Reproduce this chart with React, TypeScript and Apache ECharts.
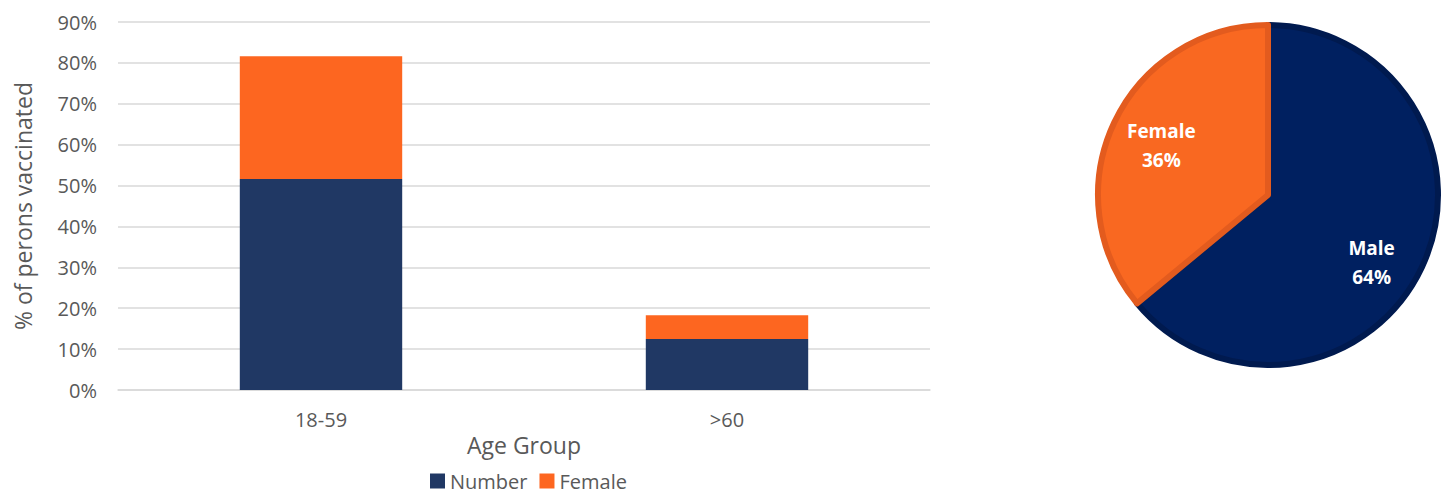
import React, { useEffect, useRef } from "react";
import * as echarts from "echarts";

const categories = ["18-59", ">60"];
const numberValues = [51.6, 12.5];
const femaleValues = [30.0, 5.8];
const pieNames = ["Male", "Female"];
const pieValues = [64, 36];

export default function App() {
  const ref = useRef<HTMLDivElement>(null);
  useEffect(() => {
    if (!ref.current) return;
    const chart = echarts.init(ref.current, null, { renderer: "svg" });
    const font = "'Open Sans', 'Liberation Sans', sans-serif";
    const offsets: Record<number, [number, number]> = { 0: [24, 30], 1: [-27, -12] };
    chart.setOption({
      animation: false,
      textStyle: { fontFamily: font },
      grid: { left: 118, right: 514, top: 22, bottom: 104 },
      legend: {
        data: ["Number", "Female"],
        left: 430,
        top: 471,
        padding: 0,
        icon: "rect",
        itemWidth: 15,
        itemHeight: 15,
        itemGap: 12,
        textStyle: { fontSize: 20, color: "#595959", fontFamily: font },
      },
      xAxis: {
        type: "category",
        data: categories,
        name: "Age Group",
        nameLocation: "middle",
        nameGap: 36,
        nameTextStyle: { fontSize: 23, color: "#595959", fontFamily: font },
        axisLine: { lineStyle: { color: "#d9d9d9", width: 1.5 } },
        axisTick: { show: false },
        axisLabel: { fontSize: 20, color: "#595959", margin: 19, fontFamily: font },
      },
      yAxis: {
        type: "value",
        min: 0,
        max: 90,
        interval: 10,
        name: "% of perons vaccinated",
        nameLocation: "middle",
        nameGap: 84,
        nameTextStyle: { fontSize: 23, color: "#595959", fontFamily: font },
        axisLine: { show: false },
        axisTick: { show: false },
        axisLabel: { formatter: "{value}%", fontSize: 20, color: "#595959", margin: 21, fontFamily: font },
        splitLine: { lineStyle: { color: "#d9d9d9", width: 1.5 } },
      },
      series: [
        {
          name: "Number",
          type: "bar",
          stack: "total",
          barWidth: "40%",
          data: numberValues,
          itemStyle: { color: "#203864" },
        },
        {
          name: "Female",
          type: "bar",
          stack: "total",
          barWidth: "40%",
          data: femaleValues,
          itemStyle: { color: "#FD6620" },
        },
        {
          name: "Gender",
          type: "pie",
          center: [1268, 195],
          radius: 170,
          startAngle: 90,
          clockwise: true,
          data: pieNames.map((n, i) => ({
            name: n,
            value: pieValues[i],
            itemStyle:
              i === 0
                ? { color: "#002060", borderColor: "#001A4F", borderWidth: 6 }
                : { color: "#F96821", borderColor: "#E35B1E", borderWidth: 6 },
          })),
          label: {
            show: true,
            position: "inside",
            formatter: "{b}\n{d}%",
            color: "#ffffff",
            fontWeight: "bold",
            fontSize: 19,
            lineHeight: 29,
            fontFamily: font,
          },
          labelLine: { show: false },
          labelLayout: (p: any) => ({ dx: offsets[p.dataIndex][0], dy: offsets[p.dataIndex][1] }),
          emphasis: { disabled: true },
        },
      ],
    });
    return () => chart.dispose();
  }, []);
  return <div ref={ref} style={{ position: "fixed", left: 0, top: 0, width: 1444, height: 494, background: "#fff" }} />;
}
